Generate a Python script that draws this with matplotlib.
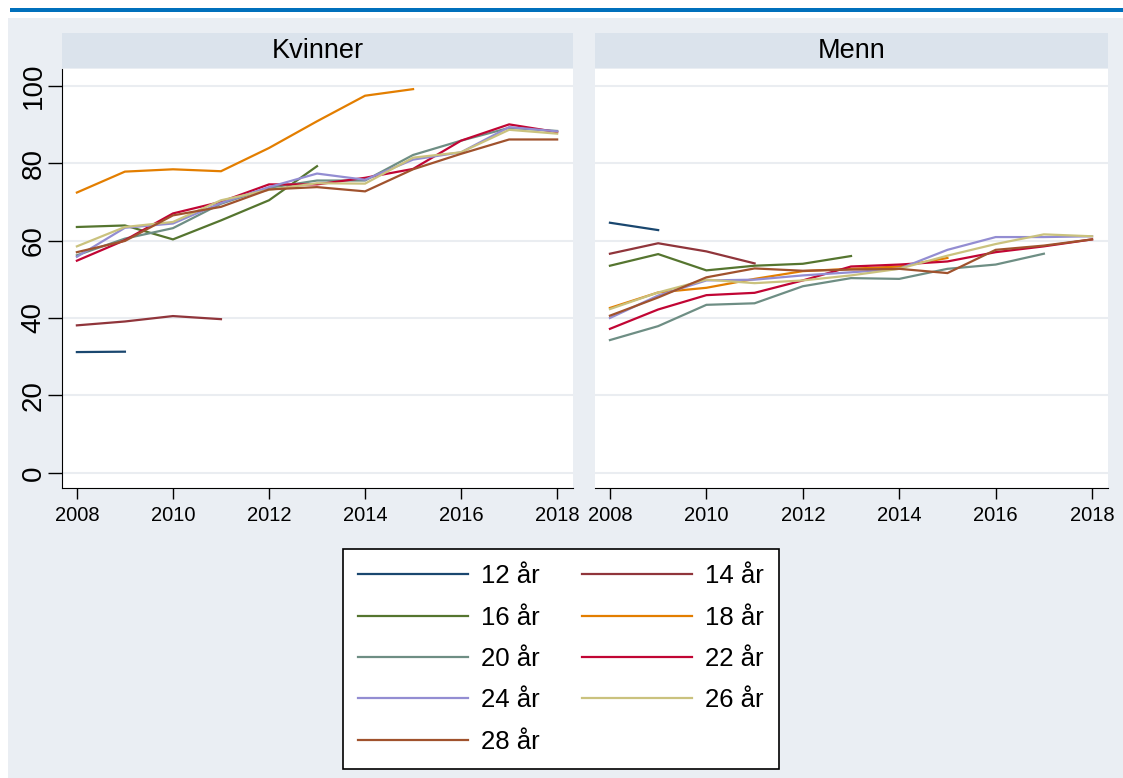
import numpy as np
import matplotlib
matplotlib.use('Agg')
import matplotlib.pyplot as plt
from matplotlib.patches import Rectangle

plt.rcParams['font.family'] = ['Liberation Sans', 'DejaVu Sans']

years = np.arange(2008, 2019)
ages = ['12 år', '14 år', '16 år', '18 år', '20 år', '22 år', '24 år', '26 år', '28 år']
colors = ['#1a476f', '#90353b', '#55752f', '#e37e00', '#6e8e84',
          '#c10534', '#938dd2', '#cac27e', '#a0522d']

# Kvinner, én liste per aldersgruppe (serien starter i 2008)
kvinner = {
    '12 år': [31.2, 31.3],
    '14 år': [38.1, 39.1, 40.5, 39.7],
    '16 år': [63.5, 63.9, 60.3, 65.2, 70.4, 79.2],
    '18 år': [72.4, 77.8, 78.4, 77.9, 83.9, 90.8, 97.4, 99.1],
    '20 år': [56.2, 60.5, 63.2, 69.5, 73.6, 75.5, 75.5, 82.1, 85.8, 89.1, 88.3],
    '22 år': [54.8, 60.1, 67.0, 70.0, 74.5, 74.5, 76.2, 78.5, 85.8, 90.0, 88.0],
    '24 år': [55.8, 63.3, 64.4, 69.7, 73.8, 77.3, 75.7, 80.9, 82.8, 89.3, 88.2],
    '26 år': [58.5, 63.5, 64.8, 70.4, 73.1, 74.8, 74.7, 81.4, 82.8, 88.6, 87.6],
    '28 år': [57.0, 59.9, 66.5, 68.7, 73.2, 73.8, 72.7, 78.4, 82.4, 86.1, 86.1],
}

menn = {
    '12 år': [64.6, 62.7],
    '14 år': [56.6, 59.3, 57.2, 54.1],
    '16 år': [53.5, 56.5, 52.3, 53.5, 54.0, 56.0],
    '18 år': [42.6, 46.6, 47.8, 50.1, 52.1, 52.7, 53.3, 55.5],
    '20 år': [34.3, 37.9, 43.4, 43.8, 48.2, 50.3, 50.1, 52.7, 53.8, 56.6],
    '22 år': [37.2, 42.2, 45.9, 46.5, 49.7, 53.3, 53.8, 54.6, 57.0, 58.5, 60.3],
    '24 år': [40.0, 45.8, 49.7, 49.9, 51.0, 51.8, 52.7, 57.6, 60.9, 60.9, 61.1],
    '26 år': [42.3, 46.6, 49.9, 49.0, 49.7, 51.0, 52.7, 56.1, 59.1, 61.6, 61.1],
    '28 år': [40.6, 45.3, 50.5, 52.8, 52.2, 52.5, 52.7, 51.6, 57.6, 58.7, 60.3],
}

panels = [('Kvinner', kvinner), ('Menn', menn)]

W, H = 1123, 778
bg = '#eaeef3'
strip_col = '#dbe3ec'
grid_col = '#eaedf1'

fig = plt.figure(figsize=(W / 100, H / 100), dpi=100)
fig.patch.set_facecolor('white')

# bakgrunn og blå linje øverst
fig.patches.append(Rectangle((8 / W, 0), 1 - 8 / W, 1 - 18 / H, transform=fig.transFigure,
                             facecolor=bg, edgecolor='none', zorder=-10))
fig.patches.append(Rectangle((10 / W, 1 - 12 / H), 1 - 10 / W, 4 / H, transform=fig.transFigure,
                             facecolor='#0070bc', edgecolor='none', zorder=-10))


def px_axes(x0, y0, x1, y1):
    return fig.add_axes([x0 / W, 1 - y1 / H, (x1 - x0) / W, (y1 - y0) / H])


lefts = [(62, 573), (595, 1108)]
handles = {}
for i, (title, data) in enumerate(panels):
    x0, x1 = lefts[i]
    ax = px_axes(x0, 69, x1, 488)
    ax.set_facecolor('white')
    for age, col in zip(ages, colors):
        vals = data[age]
        line, = ax.plot(years[:len(vals)], vals, color=col, lw=1.6, solid_joinstyle='miter')
        handles[age] = line
    ax.set_xlim(2007.69, 2018.33)
    ax.set_ylim(-3.9, 104.3)
    ax.set_yticks([0, 20, 40, 60, 80, 100])
    ax.set_xticks(range(2008, 2019, 2))
    ax.grid(axis='y', color=grid_col, lw=1.5)
    ax.set_axisbelow(True)
    for s in ['top', 'right']:
        ax.spines[s].set_visible(False)
    ax.spines['bottom'].set_color('black')
    ax.tick_params(axis='x', direction='out', length=8, width=1, labelsize=14.5, pad=5)
    if i == 0:
        ax.tick_params(axis='y', direction='out', length=10, width=1, labelsize=20,
                       labelrotation=90, pad=1)
        for lab in ax.get_yticklabels():
            lab.set_va('center')
    else:
        ax.spines['left'].set_visible(False)
        ax.tick_params(axis='y', left=False, labelleft=False)

    sax = px_axes(x0, 33, x1, 68)
    sax.set_facecolor(strip_col)
    sax.set_xticks([])
    sax.set_yticks([])
    for s in sax.spines.values():
        s.set_visible(False)
    sax.text(0.5, 0.5, title, ha='center', va='center', fontsize=19.5, transform=sax.transAxes)

order = ['12 år', '16 år', '20 år', '24 år', '28 år', '14 år', '18 år', '22 år', '26 år']
leg = fig.legend([handles[a] for a in order], order, ncol=2,
                 loc='center', bbox_to_anchor=(561 / W, 1 - 659 / H),
                 fontsize=18.5, frameon=True, fancybox=False, edgecolor='black',
                 framealpha=1, handlelength=4.28, handletextpad=0.5, columnspacing=1.65,
                 labelspacing=0.68, borderpad=0.58)
leg.get_frame().set_linewidth(1.2)

fig.savefig('out.png', dpi=100)
